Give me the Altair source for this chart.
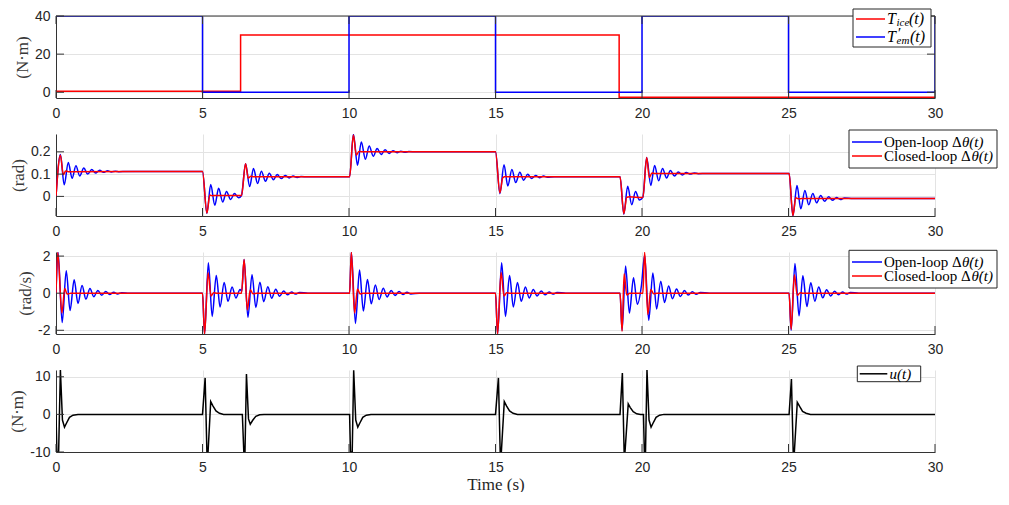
import altair as alt
import pandas as pd

# ---------------- data ----------------
X_TICKS = [0, 5, 10, 15, 20, 25, 30]

# Panel 1: torques (N·m)
T_EM = [(0, 40), (5, 40), (5, 0), (10, 0), (10, 40), (15, 40), (15, 0), (20, 0),
        (20, 40), (25, 40), (25, 0), (30, 0), (30, 40)]
T_ICE = [(0, 0.6), (6.3, 0.6), (6.3, 30), (19.22, 30), (19.22, -2.6), (30, -2.6)]
P1_YTICKS = [0, 20, 40]

# Panel 2: Δθ (rad)
THETA_OPEN = [
    (0, 0), (0.15, 0.188), (0.28, 0.052), (0.42, 0.152), (0.55, 0.081), (0.68, 0.137),
    (0.81, 0.092), (0.95, 0.127), (1.08, 0.100), (1.22, 0.121), (1.35, 0.105), (1.49, 0.117),
    (1.62, 0.108), (1.76, 0.115), (1.89, 0.110), (2.03, 0.113), (2.16, 0.111), (2.4, 0.112),
    (5.0, 0.112),
    (5.15, -0.076), (5.28, 0.053), (5.42, -0.040), (5.55, 0.036), (5.69, -0.025), (5.82, 0.022),
    (5.96, -0.014), (6.09, 0.013), (6.23, -0.006), (6.33, 0.004),
    (6.47, 0.147), (6.61, 0.044), (6.74, 0.125), (6.88, 0.058), (7.01, 0.113), (7.15, 0.068),
    (7.28, 0.104), (7.42, 0.075), (7.55, 0.098), (7.69, 0.080), (7.82, 0.094), (7.96, 0.083),
    (8.09, 0.091), (8.23, 0.085), (8.36, 0.089), (8.6, 0.088), (10.02, 0.088),
    (10.15, 0.279), (10.29, 0.140), (10.42, 0.244), (10.56, 0.167), (10.69, 0.226), (10.83, 0.180),
    (10.96, 0.215), (11.10, 0.188), (11.23, 0.209), (11.37, 0.193), (11.50, 0.205), (11.64, 0.196),
    (11.77, 0.203), (11.91, 0.198), (12.04, 0.201), (12.3, 0.200), (15.0, 0.200),
    (15.15, 0.012), (15.29, 0.142), (15.42, 0.047), (15.56, 0.121), (15.69, 0.062), (15.83, 0.108),
    (15.96, 0.073), (16.10, 0.099), (16.23, 0.080), (16.37, 0.094), (16.50, 0.084), (16.64, 0.091),
    (16.77, 0.086), (17.0, 0.088), (19.25, 0.088),
    (19.38, -0.080), (19.51, 0.045), (19.65, -0.037), (19.78, 0.022), (19.91, -0.016), (20.03, -0.003),
    (20.16, 0.174), (20.30, 0.049), (20.43, 0.139), (20.57, 0.070), (20.70, 0.125), (20.84, 0.083),
    (20.97, 0.116), (21.11, 0.091), (21.24, 0.110), (21.38, 0.096), (21.51, 0.107), (21.65, 0.100),
    (21.78, 0.105), (21.92, 0.102), (22.2, 0.103), (25.02, 0.103),
    (25.15, -0.087), (25.29, 0.049), (25.42, -0.056), (25.56, 0.027), (25.69, -0.038), (25.83, 0.013),
    (25.96, -0.029), (26.10, 0.004), (26.23, -0.022), (26.37, -0.002), (26.50, -0.017), (26.64, -0.005),
    (26.77, -0.014), (26.91, -0.007), (27.2, -0.010), (30, -0.010),
]
THETA_CLOSED = [
    (0, 0), (0.15, 0.185), (0.25, 0.097), (0.33, 0.114), (0.42, 0.111), (5.0, 0.112),
    (5.15, -0.075), (5.25, 0.006), (5.33, 0.003), (5.45, 0.004), (6.33, 0.004),
    (6.47, 0.147), (6.56, 0.082), (6.65, 0.090), (6.75, 0.088), (10.02, 0.088),
    (10.15, 0.276), (10.25, 0.185), (10.34, 0.202), (10.45, 0.200), (15.0, 0.200),
    (15.15, 0.016), (15.25, 0.084), (15.35, 0.089), (15.45, 0.088), (19.25, 0.088),
    (19.38, -0.078), (19.48, -0.004), (19.58, -0.002), (19.7, -0.003), (20.03, -0.005),
    (20.16, 0.174), (20.25, 0.085), (20.34, 0.105), (20.45, 0.103), (25.02, 0.103),
    (25.15, -0.086), (25.25, -0.006), (25.35, -0.011), (25.45, -0.010), (30, -0.010),
]
P2_YTICKS = [0, 0.1, 0.2]

# Panel 3: Δθ̇ (rad/s)
RATE_OPEN = [
    (0, 0), (0.07, 2.2), (0.21, -1.58), (0.35, 1.21), (0.48, -0.93), (0.62, 0.72), (0.75, -0.55),
    (0.89, 0.42), (1.02, -0.32), (1.16, 0.25), (1.29, -0.19), (1.43, 0.15), (1.56, -0.11),
    (1.70, 0.09), (1.83, -0.07), (1.97, 0.05), (2.10, -0.04), (2.24, 0.03), (2.5, 0), (5.0, 0),
    (5.07, -2.2), (5.20, 1.64), (5.33, -1.25), (5.47, 0.96), (5.60, -0.74), (5.74, 0.57),
    (5.87, -0.44), (6.01, 0.34), (6.14, -0.26), (6.28, 0.2), (6.34, 0.1),
    (6.42, 1.81), (6.55, -1.3), (6.69, 1.0), (6.82, -0.77), (6.96, 0.59), (7.09, -0.46),
    (7.23, 0.35), (7.36, -0.27), (7.50, 0.21), (7.63, -0.16), (7.77, 0.12), (7.90, -0.09),
    (8.04, 0.07), (8.17, -0.05), (8.31, 0.04), (8.6, 0), (10.02, 0),
    (10.08, 2.21), (10.22, -1.63), (10.36, 1.25), (10.49, -0.96), (10.63, 0.74), (10.76, -0.57),
    (10.90, 0.44), (11.03, -0.34), (11.17, 0.26), (11.30, -0.2), (11.44, 0.15), (11.57, -0.12),
    (11.71, 0.09), (11.84, -0.07), (11.98, 0.05), (12.11, -0.04), (12.4, 0), (15.0, 0),
    (15.07, -2.2), (15.21, 1.64), (15.34, -1.25), (15.48, 0.96), (15.61, -0.74), (15.75, 0.57),
    (15.88, -0.44), (16.02, 0.34), (16.15, -0.26), (16.29, 0.2), (16.42, -0.15), (16.56, 0.12),
    (16.69, -0.09), (16.83, 0.07), (16.96, -0.05), (17.10, 0.04), (17.4, 0), (19.25, 0),
    (19.32, -2.0), (19.44, 1.47), (19.57, -1.07), (19.71, 0.83), (19.84, -0.6), (19.98, 0.4),
    (20.09, 2.05), (20.23, -1.46), (20.37, 1.09), (20.50, -0.85), (20.64, 0.65), (20.77, -0.5),
    (20.91, 0.39), (21.04, -0.3), (21.18, 0.23), (21.31, -0.18), (21.45, 0.14), (21.58, -0.1),
    (21.72, 0.08), (21.85, -0.06), (21.99, 0.04), (22.3, 0), (25.02, 0),
    (25.09, -2.0), (25.22, 1.6), (25.36, -1.22), (25.49, 0.94), (25.63, -0.72), (25.76, 0.56),
    (25.90, -0.43), (26.03, 0.33), (26.17, -0.25), (26.30, 0.19), (26.44, -0.15), (26.57, 0.11),
    (26.71, -0.09), (26.84, 0.07), (26.98, -0.05), (27.11, 0.04), (27.4, 0), (30, 0),
]
RATE_CLOSED = [
    (0, 0), (0.06, 2.2), (0.2, -1.07), (0.3, 0.25), (0.38, -0.05), (0.5, 0), (5.0, 0),
    (5.07, -2.2), (5.19, 1.1), (5.29, -0.15), (5.38, 0.03), (5.5, 0), (6.33, 0),
    (6.42, 1.81), (6.53, -0.9), (6.63, 0.18), (6.72, -0.03), (6.85, 0), (10.02, 0),
    (10.08, 2.21), (10.19, -1.07), (10.29, 0.22), (10.38, -0.04), (10.5, 0), (15.0, 0),
    (15.07, -2.2), (15.19, 1.12), (15.29, -0.15), (15.38, 0.03), (15.5, 0), (19.25, 0),
    (19.32, -2.05), (19.39, 1.05), (19.48, -0.1), (19.58, 0), (20.03, 0),
    (20.09, 2.21), (20.2, -1.15), (20.3, 0.2), (20.4, -0.03), (20.5, 0), (25.02, 0),
    (25.09, -1.95), (25.2, 1.0), (25.3, -0.12), (25.4, 0.02), (25.5, 0), (30, 0),
]
P3_YTICKS = [-2, 0, 2]

# Panel 4: control input u (N·m)
U_CTRL = [
    (0, 0), (0.03, -10), (0.09, -10), (0.15, 11.8), (0.22, -1.5), (0.29, -3.4), (0.36, -2.3),
    (0.46, -0.8), (0.58, -0.2), (0.75, 0), (5.0, 0),
    (5.09, 9.7), (5.15, -10), (5.19, -10), (5.28, 3.4), (5.36, 2.2), (5.46, 0.9), (5.58, 0.3),
    (5.72, 0), (6.36, 0),
    (6.41, -10), (6.45, -10), (6.5, 10.7), (6.57, -1.2), (6.63, -2.6), (6.72, -1.5), (6.82, -0.5),
    (6.95, -0.1), (7.1, 0), (10.02, 0),
    (10.05, -10), (10.11, -10), (10.16, 11.7), (10.23, -1.5), (10.3, -3.4), (10.37, -2.3),
    (10.47, -0.8), (10.59, -0.2), (10.75, 0), (15.0, 0),
    (15.1, 9.7), (15.16, -10), (15.2, -10), (15.3, 3.4), (15.38, 2.2), (15.48, 0.9), (15.6, 0.3),
    (15.75, 0), (19.25, 0),
    (19.33, 11.0), (19.39, -10), (19.42, -10), (19.53, 2.8), (19.6, 1.8), (19.7, 0.7),
    (19.82, 0.15), (19.95, 0), (20.05, 0),
    (20.08, -10), (20.12, -10), (20.17, 11.8), (20.24, -1.5), (20.31, -3.4), (20.38, -2.3),
    (20.48, -0.8), (20.6, -0.2), (20.75, 0), (25.02, 0),
    (25.1, 9.4), (25.16, -10), (25.2, -10), (25.3, 3.2), (25.38, 2.1), (25.48, 0.8), (25.6, 0.3),
    (25.75, 0), (30, 0),
]
P4_YTICKS = [-10, 0, 10]

# ---------------- style ----------------
W, H = 879, 82
SANS = "Liberation Sans"
SERIF = "Liberation Serif"
AX = "#333333"
GRID = "#e3e3e3"
LBL = "#262626"
BLUE = "#0000ff"
RED = "#ff0000"
ONE = pd.DataFrame({"k": [0]})
FS = 15  # legend font size


def frame(pairs):
    return pd.DataFrame({"t": [p[0] for p in pairs], "v": [p[1] for p in pairs],
                         "i": list(range(len(pairs)))})


def x_axis(title=None):
    return alt.Axis(values=X_TICKS, grid=True, gridColor=GRID, gridWidth=1, domainColor=AX,
                    domainWidth=1, ticks=False, labelFont=SANS, labelFontSize=14, labelColor=LBL,
                    labelPadding=8, labelFlush=False, title=title, titleFont=SERIF,
                    titleFontSize=17, titleFontWeight="normal", titleColor=LBL, titlePadding=2)


def y_axis(values, title):
    return alt.Axis(values=values, grid=True, gridColor=GRID, gridWidth=1, domainColor=AX,
                    domainWidth=1, ticks=False, labelFont=SANS, labelFontSize=14, labelColor=LBL,
                    labelPadding=6, labelFlush=False, labelExpr="'' + datum.value",
                    title=title, titleFont=SERIF, titleFontSize=17, titleFontWeight="normal",
                    titleColor="#3a3a3a", titlePadding=3)


def line(pairs, color, xs, ys, interp, xaxis, yaxis):
    return alt.Chart(frame(pairs)).mark_line(color=color, strokeWidth=1.5, interpolate=interp,
                                             clip=True).encode(
        x=alt.X("t:Q", scale=xs, axis=xaxis),
        y=alt.Y("v:Q", scale=ys, axis=yaxis),
        order=alt.Order("i:Q"),
    )


def ticks(xs, ys, yvals, xaxis, yaxis, full_box=False):
    L = 8
    out = [
        alt.Chart(pd.DataFrame({"t": X_TICKS})).mark_rule(color=AX, strokeWidth=1).encode(
            x=alt.X("t:Q", scale=xs, axis=xaxis), y=alt.value(H), y2=alt.value(H - L)),
        alt.Chart(pd.DataFrame({"v": yvals})).mark_rule(color=AX, strokeWidth=1).encode(
            y=alt.Y("v:Q", scale=ys, axis=yaxis), x=alt.value(0), x2=alt.value(L)),
    ]
    if full_box:
        out += [
            alt.Chart(pd.DataFrame({"t": X_TICKS})).mark_rule(color=AX, strokeWidth=1).encode(
                x=alt.X("t:Q", scale=xs, axis=xaxis), y=alt.value(0), y2=alt.value(L)),
            alt.Chart(pd.DataFrame({"v": yvals})).mark_rule(color=AX, strokeWidth=1).encode(
                y=alt.Y("v:Q", scale=ys, axis=yaxis), x=alt.value(W), x2=alt.value(W - L)),
            alt.Chart(ONE).mark_rule(color=AX, strokeWidth=1).encode(
                x=alt.value(0), x2=alt.value(W), y=alt.value(0)),
            alt.Chart(ONE).mark_rule(color=AX, strokeWidth=1).encode(
                x=alt.value(W), y=alt.value(0), y2=alt.value(H)),
        ]
    return out


def box(x0, x1, y0, y1):
    return alt.Chart(ONE).mark_rect(fill="white", stroke=LBL, strokeWidth=1).encode(
        x=alt.value(x0), x2=alt.value(x1), y=alt.value(y0), y2=alt.value(y1))


def sample(x0, x1, y, color):
    return alt.Chart(ONE).mark_rule(color=color, strokeWidth=1.5).encode(
        x=alt.value(x0), x2=alt.value(x1), y=alt.value(y))


def label(x, y, text, size=FS, italic=False):
    return alt.Chart(ONE).mark_text(text=text, font=SERIF, fontSize=size,
                                    fontStyle="italic" if italic else "normal",
                                    align="left", baseline="middle", color="black").encode(
        x=alt.value(x), y=alt.value(y))


XS = alt.Scale(domain=[0, 30], nice=False, zero=False)

# ---- panel 1 ----
ys1 = alt.Scale(domain=[-3, 40], nice=False, zero=False)
xa1, ya1 = x_axis(), y_axis(P1_YTICKS, "(N·m)")
p1 = alt.layer(
    line(T_ICE, RED, XS, ys1, "linear", xa1, ya1),
    line(T_EM, BLUE, XS, ys1, "linear", xa1, ya1),
    *ticks(XS, ys1, P1_YTICKS, xa1, ya1, full_box=True),
    box(797, 875, -7, 31),
    sample(800, 829, 3, RED),
    label(831, 3, "T", 16, True), label(840.5, 7, "ice", 11, True), label(853, 3, "(t)", 16, True),
    sample(800, 829, 21, BLUE),
    label(831, 21, "T", 16, True), label(842, 16.5, "′", 15, False), label(840.5, 25, "em", 11, True),
    label(854, 21, "(t)", 16, True),
).properties(width=W, height=H)

# ---- panel 2 ----
ys2 = alt.Scale(domain=[-0.088, 0.28], nice=False, zero=False)
xa2, ya2 = x_axis(), y_axis(P2_YTICKS, "(rad)")
p2 = alt.layer(
    line(THETA_OPEN, BLUE, XS, ys2, "monotone", xa2, ya2),
    line(THETA_CLOSED, RED, XS, ys2, "monotone", xa2, ya2),
    *ticks(XS, ys2, P2_YTICKS, xa2, ya2),
    box(793, 941, -4, 34),
    sample(796, 826, 8, BLUE),
    label(828, 8, "Open-loop Δ"), label(906, 8, "θ(t)", FS, True),
    sample(796, 826, 22, RED),
    label(828, 22, "Closed-loop Δ"), label(915.5, 22, "θ(t)", FS, True),
).properties(width=W, height=H)

# ---- panel 3 ----
ys3 = alt.Scale(domain=[-2.2, 2.22], nice=False, zero=False)
xa3, ya3 = x_axis(), y_axis(P3_YTICKS, "(rad/s)")
p3 = alt.layer(
    line(RATE_OPEN, BLUE, XS, ys3, "monotone", xa3, ya3),
    line(RATE_CLOSED, RED, XS, ys3, "monotone", xa3, ya3),
    *ticks(XS, ys3, P3_YTICKS, xa3, ya3),
    box(793, 941, -1.7, 36),
    sample(796, 826, 10, BLUE),
    label(828, 10, "Open-loop Δ"), label(906, 10, "θ̇(t)", FS, True),
    sample(796, 826, 24, RED),
    label(828, 24, "Closed-loop Δ"), label(915.5, 24, "θ̇(t)", FS, True),
).properties(width=W, height=H)

# ---- panel 4 ----
ys4 = alt.Scale(domain=[-10, 11.8], nice=False, zero=False)
xa4, ya4 = x_axis("Time (s)"), y_axis(P4_YTICKS, "(N·m)")
p4 = alt.layer(
    line(U_CTRL, "black", XS, ys4, "linear", xa4, ya4),
    *ticks(XS, ys4, P4_YTICKS, xa4, ya4),
    box(801.3, 864.7, -4, 11.7),
    sample(803.7, 831.3, 3.8, "black"),
    label(833.5, 3.8, "u(t)", FS, True),
).properties(width=W, height=H)

chart = alt.vconcat(p1, p2, p3, p4, spacing=36, bounds="flush").properties(
    padding={"left": 0, "top": 0, "right": 0, "bottom": 0}
).configure_view(strokeWidth=0)

chart.save("out.html", embed_options={"renderer": "svg", "actions": False})
